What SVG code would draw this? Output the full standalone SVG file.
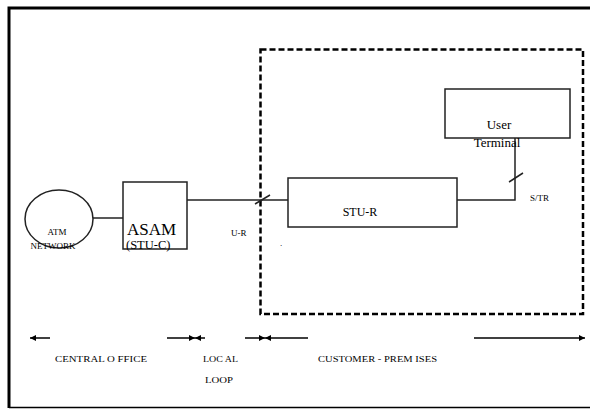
<svg xmlns="http://www.w3.org/2000/svg" width="590" height="409" viewBox="0 0 590 409">
<defs>
<style>
text{font-family:"Liberation Serif","Times New Roman","DejaVu Serif",serif;fill:#000}
.ln{stroke:#222;stroke-width:1.5;fill:none}
.box{stroke:#222;stroke-width:1.5;fill:#fff}
</style>
<marker id="ah" viewBox="0 0 10 10" refX="10" refY="5" markerWidth="8" markerHeight="6" markerUnits="userSpaceOnUse" orient="auto-start-reverse"><path d="M0,0 L10,5 L0,10 z" fill="#000"/></marker>
</defs>
<rect width="590" height="409" fill="#fff"/>
<path d="M9,408 L9,8 L600,8" fill="none" stroke="#000" stroke-width="3"/>
<line x1="9" y1="407.5" x2="600" y2="407.5" stroke="#000" stroke-width="1.5"/>
<rect id="premises" x="260.5" y="49.5" width="322.5" height="264.5" fill="none" stroke="#000" stroke-width="2.5" stroke-dasharray="6,3"/>
<g id="connectors">
<line class="ln" x1="93" y1="218" x2="123" y2="218"/>
<line class="ln" x1="187" y1="200" x2="288" y2="200"/>
<line class="ln" x1="255" y1="204" x2="270" y2="195"/>
<polyline class="ln" points="457,200 515,200 515,138"/>
<line class="ln" x1="509" y1="182" x2="523" y2="173"/>
</g>
<g id="atm-network">
<ellipse cx="59" cy="219" rx="34" ry="29" class="box"/>
<text x="57" y="235" font-size="9" text-anchor="middle">ATM</text>
<text x="53" y="249" font-size="9" text-anchor="middle">NETWORK</text>
</g>
<g id="asam">
<rect class="box" x="123" y="182" width="64" height="67"/>
<text x="127" y="235" font-size="17">ASAM</text>
<text x="126" y="249" font-size="12.5">(STU-C)</text>
</g>
<g id="stu-r">
<rect class="box" x="288" y="178" width="169" height="49"/>
<text x="360" y="216" font-size="12" text-anchor="middle">STU-R</text>
</g>
<g id="user-terminal">
<rect class="box" x="445" y="89" width="125" height="49"/>
<text x="499" y="129" font-size="13" text-anchor="middle">User</text>
<text x="497" y="147" font-size="13" text-anchor="middle">Terminal</text>
</g>
<g id="labels">
<text x="231" y="236" font-size="9">U-R</text>
<text x="280" y="246" font-size="9">.</text>
<text x="530" y="201" font-size="9">S/TR</text>
</g>
<g id="spans" stroke="#000" stroke-width="1.5" fill="none">
<line x1="50" y1="338" x2="30" y2="338" marker-end="url(#ah)"/>
<line x1="167" y1="338" x2="195" y2="338" marker-end="url(#ah)"/>
<line x1="205" y1="338" x2="195" y2="338" marker-end="url(#ah)"/>
<line x1="245" y1="338" x2="265" y2="338" marker-end="url(#ah)"/>
<line x1="308" y1="338" x2="265" y2="338" marker-end="url(#ah)"/>
<line x1="474" y1="338" x2="585" y2="338" marker-end="url(#ah)"/>
</g>
<g id="span-labels">
<text x="55" y="362" font-size="9" textLength="92" lengthAdjust="spacingAndGlyphs">CENTRAL O FFICE</text>
<text x="203" y="362" font-size="9" textLength="35" lengthAdjust="spacingAndGlyphs">LOC AL</text>
<text x="205" y="383" font-size="9" textLength="28" lengthAdjust="spacingAndGlyphs">LOOP</text>
<text x="318" y="362" font-size="9" textLength="119" lengthAdjust="spacingAndGlyphs">CUSTOMER - PREM ISES</text>
</g>
</svg>
